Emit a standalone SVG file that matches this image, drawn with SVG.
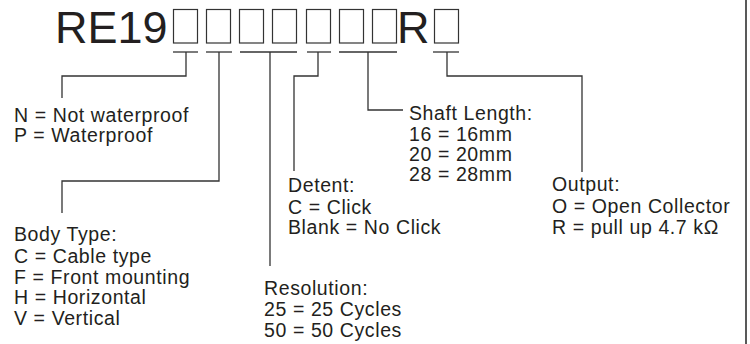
<svg xmlns="http://www.w3.org/2000/svg" width="750" height="344" viewBox="0 0 750 344">
<style>
.t{font-family:"Liberation Sans",Arial,Helvetica,sans-serif;font-size:19.5px;letter-spacing:0.6px;fill:#231f20}
.title{font-family:"Liberation Sans",Arial,Helvetica,sans-serif;font-size:45px;fill:#231f20}
.box{fill:none;stroke:#333;stroke-width:1.2}
.bar{stroke:#333;stroke-width:1.3;fill:none}
.c{stroke:#333;stroke-width:1.3;fill:none}
</style>
<rect width="750" height="344" fill="#fff"/>
<line x1="746" y1="0" x2="746" y2="344" stroke="#222" stroke-width="1.5"/>
<g id="part-number">
<text class="title" x="55" y="43">RE19</text>
<rect class="box" x="173.5" y="9.5" width="24" height="33.5"/>
<rect class="box" x="206.5" y="9.5" width="24" height="33.5"/>
<rect class="box" x="239.5" y="9.5" width="24" height="33.5"/>
<rect class="box" x="272.5" y="9.5" width="24" height="33.5"/>
<rect class="box" x="306.5" y="9.5" width="24" height="33.5"/>
<rect class="box" x="339.5" y="9.5" width="24" height="33.5"/>
<rect class="box" x="372.5" y="9.5" width="24" height="33.5"/>
<text class="title" x="397" y="43">R</text>
<rect class="box" x="434.5" y="9.5" width="24" height="33.5"/>
<line class="bar" x1="173" y1="52" x2="198" y2="52"/>
<line class="bar" x1="206" y1="52" x2="232" y2="52"/>
<line class="bar" x1="240" y1="52" x2="297" y2="52"/>
<line class="bar" x1="307" y1="52" x2="331" y2="52"/>
<line class="bar" x1="339" y1="52" x2="397" y2="52"/>
<line class="bar" x1="433" y1="52" x2="459" y2="52"/>
</g>
<g id="connectors">
<polyline class="c" points="186,52 186,76 62,76 62,98"/>
<polyline class="c" points="219,52 219,181 62,181 62,213"/>
<polyline class="c" points="270,52 270,266"/>
<polyline class="c" points="318,52 318,76 294,76 294,171"/>
<polyline class="c" points="368,52 368,110 403,110"/>
<polyline class="c" points="447,52 447,76 582,76 582,172"/>
</g>
<g id="waterproof">
<text class="t" x="14" y="121.5">N = Not waterproof</text>
<text class="t" x="14" y="142">P = Waterproof</text>
</g>
<g id="body-type">
<text class="t" x="14" y="241">Body Type:</text>
<text class="t" x="14" y="263">C = Cable type</text>
<text class="t" x="14" y="283.5">F = Front mounting</text>
<text class="t" x="14" y="304">H = Horizontal</text>
<text class="t" x="14" y="324.5">V = Vertical</text>
</g>
<g id="resolution">
<text class="t" x="264" y="295">Resolution:</text>
<text class="t" x="264" y="316">25 = 25 Cycles</text>
<text class="t" x="264" y="336.5">50 = 50 Cycles</text>
</g>
<g id="detent">
<text class="t" x="288" y="192">Detent:</text>
<text class="t" x="288" y="214">C = Click</text>
<text class="t" x="288" y="234">Blank = No Click</text>
</g>
<g id="shaft-length">
<text class="t" x="409" y="120">Shaft Length:</text>
<text class="t" x="409" y="141">16 = 16mm</text>
<text class="t" x="409" y="161">20 = 20mm</text>
<text class="t" x="409" y="181">28 = 28mm</text>
</g>
<g id="output">
<text class="t" x="552" y="191">Output:</text>
<text class="t" x="552" y="213">O = Open Collector</text>
<text class="t" x="552" y="234">R = pull up 4.7 kΩ</text>
</g>
</svg>
